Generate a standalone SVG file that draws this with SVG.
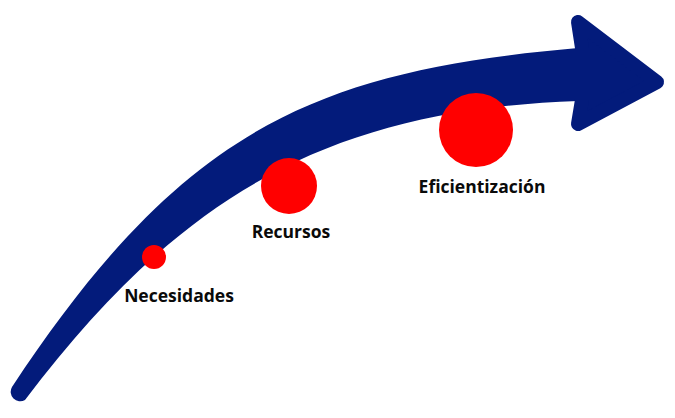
<svg xmlns="http://www.w3.org/2000/svg" width="675" height="418" viewBox="0 0 675 418">
  <style>
    .band { fill: #031B7B; }
    .head { fill: #031B7B; stroke: #031B7B; stroke-width: 14; stroke-linejoin: round; }
    .dot { fill: #FF0000; }
    .lbl { font-family: "Open Sans", "Noto Sans", "Liberation Sans", sans-serif; font-weight: bold; font-size: 17.5px; fill: #0A0A0A; text-anchor: middle; }
  </style>
  <rect width="675" height="418" fill="#FFFFFF"/>
  <g id="connectors">
    <path id="arrow-body" class="band" d="M12,387 C182.5,128.5 315,71 578,48 L578,101 C325,110 178,198 25,400 A9.5,9.5 0 0 1 12,387 Z"/>
    <polygon id="arrow-head" class="head" points="578,22 657,82 578,124 582,100 582,48"/>
  </g>
  <g id="node-necesidades">
    <circle class="dot" cx="154" cy="257" r="12"/>
    <text class="lbl" x="179" y="302">Necesidades</text>
  </g>
  <g id="node-recursos">
    <circle class="dot" cx="289" cy="186" r="28"/>
    <text class="lbl" x="291" y="238">Recursos</text>
  </g>
  <g id="node-eficientizacion">
    <circle class="dot" cx="476" cy="130" r="37"/>
    <text class="lbl" x="482" y="193">Eficientización</text>
  </g>
</svg>
